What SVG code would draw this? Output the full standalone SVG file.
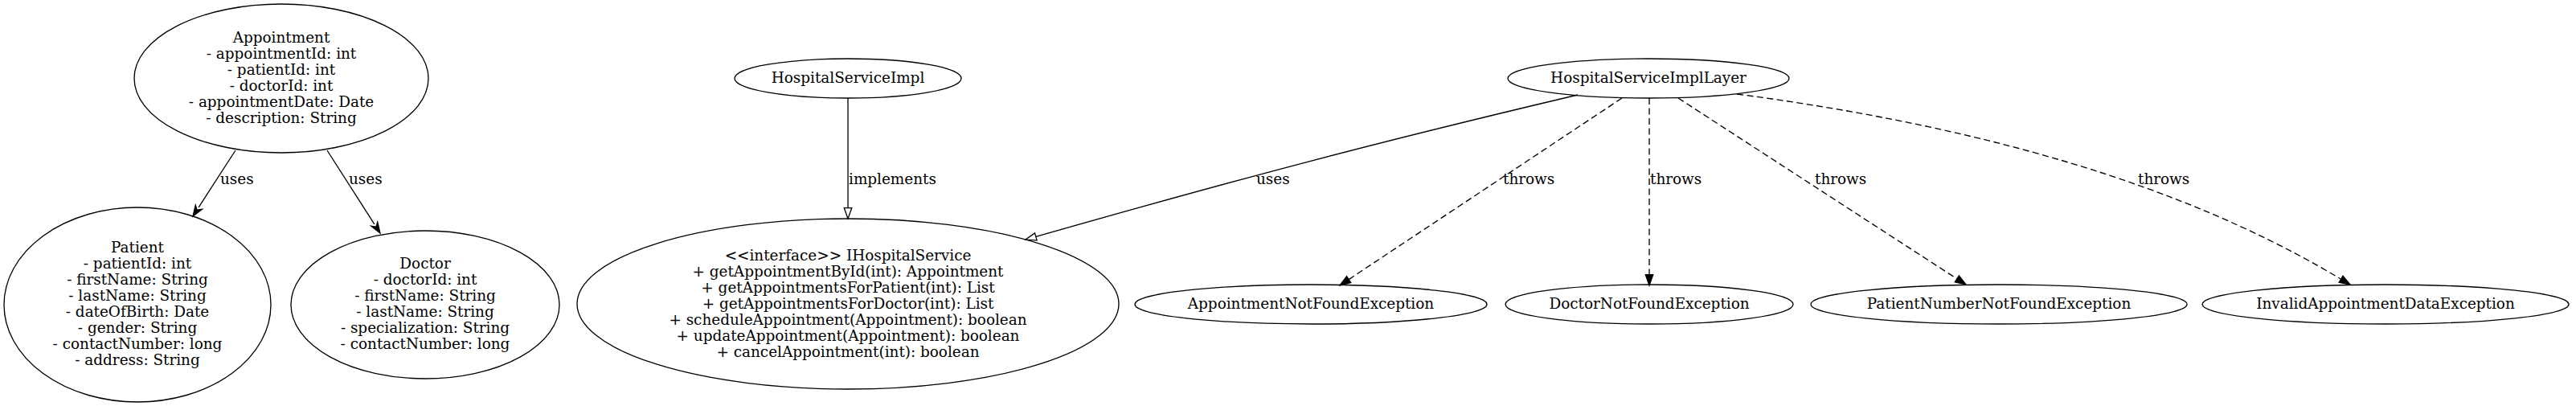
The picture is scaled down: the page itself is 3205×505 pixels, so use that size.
<svg xmlns="http://www.w3.org/2000/svg" width="3205" height="505" viewBox="0 0 3205 505">
<style>
text{font-family:"DejaVu Serif","Liberation Serif",serif;font-size:18.4px;fill:#000}
.n text{text-anchor:middle}
.n ellipse{fill:none;stroke:#000;stroke-width:1.33}
.e path{fill:none;stroke:#000;stroke-width:1.33}
.e .d{stroke-dasharray:8,4.5}
</style>
<defs>
<marker id="vee" markerUnits="userSpaceOnUse" markerWidth="20" markerHeight="20" refX="0" refY="0" orient="auto" viewBox="-2 -10 20 20" overflow="visible">
<path d="M0,-4.7 L13.3,0 L0,4.7 L4,0 Z" fill="#000" stroke="#000" stroke-width="1.33"/>
</marker>
<marker id="hollow" markerUnits="userSpaceOnUse" markerWidth="20" markerHeight="20" refX="0" refY="0" orient="auto" viewBox="-2 -10 20 20" overflow="visible">
<path d="M0,-4.7 L13.3,0 L0,4.7 Z" fill="#fff" stroke="#000" stroke-width="1.33"/>
</marker>
<marker id="solid" markerUnits="userSpaceOnUse" markerWidth="20" markerHeight="20" refX="0" refY="0" orient="auto" viewBox="-2 -10 20 20" overflow="visible">
<path d="M0,-4.7 L13.3,0 L0,4.7 Z" fill="#000" stroke="#000" stroke-width="1.33"/>
</marker>
</defs>
<rect width="3205" height="505" fill="#fff"/>
<g id="edges" class="e">
<path d="M293,187 L247.2,257.8" marker-end="url(#vee)"/>
<text x="274" y="229">uses</text>
<path d="M407,187 L465.8,278.8" marker-end="url(#vee)"/>
<text x="434" y="229">uses</text>
<path d="M1055,122 L1055,258.7" marker-end="url(#hollow)"/>
<text x="1056" y="229">implements</text>
<path d="M1963,118 C1713,177 1539,223 1288.8,294.4" marker-end="url(#hollow)"/>
<text x="1563" y="229">uses</text>
<path class="d" d="M2018,122 L1678.1,347.6" marker-end="url(#solid)"/>
<text x="1870" y="229">throws</text>
<path class="d" d="M2052,122 L2052,341.7" marker-end="url(#solid)"/>
<text x="2053" y="229">throws</text>
<path class="d" d="M2088,122 L2434.8,346.8" marker-end="url(#solid)"/>
<text x="2258" y="229">throws</text>
<path class="d" d="M2161,117 C2541,167 2767,260 2912.6,347.2" marker-end="url(#solid)"/>
<text x="2660" y="229">throws</text>
</g>
<g id="Appointment" class="n">
<ellipse cx="350" cy="97.5" rx="183" ry="92.5"/>
<text x="350" y="53">Appointment</text>
<text x="350" y="73">- appointmentId: int</text>
<text x="350" y="93">- patientId: int</text>
<text x="350" y="113">- doctorId: int</text>
<text x="350" y="133">- appointmentDate: Date</text>
<text x="350" y="153">- description: String</text>
</g>
<g id="Patient" class="n">
<ellipse cx="171" cy="379" rx="166" ry="121"/>
<text x="171" y="314">Patient</text>
<text x="171" y="334">- patientId: int</text>
<text x="171" y="354">- firstName: String</text>
<text x="171" y="374">- lastName: String</text>
<text x="171" y="394">- dateOfBirth: Date</text>
<text x="171" y="414">- gender: String</text>
<text x="171" y="434">- contactNumber: long</text>
<text x="171" y="454">- address: String</text>
</g>
<g id="Doctor" class="n">
<ellipse cx="529" cy="379" rx="167" ry="92"/>
<text x="529" y="334">Doctor</text>
<text x="529" y="354">- doctorId: int</text>
<text x="529" y="374">- firstName: String</text>
<text x="529" y="394">- lastName: String</text>
<text x="529" y="414">- specialization: String</text>
<text x="529" y="434">- contactNumber: long</text>
</g>
<g id="IHospitalService" class="n">
<ellipse cx="1055" cy="378" rx="337" ry="106"/>
<text x="1055" y="324">&lt;&lt;interface&gt;&gt; IHospitalService</text>
<text x="1055" y="344">+ getAppointmentById(int): Appointment</text>
<text x="1055" y="364">+ getAppointmentsForPatient(int): List</text>
<text x="1055" y="384">+ getAppointmentsForDoctor(int): List</text>
<text x="1055" y="404">+ scheduleAppointment(Appointment): boolean</text>
<text x="1055" y="424">+ updateAppointment(Appointment): boolean</text>
<text x="1055" y="444">+ cancelAppointment(int): boolean</text>
</g>
<g id="HospitalServiceImpl" class="n">
<ellipse cx="1055" cy="97.5" rx="141" ry="24.5"/>
<text x="1055" y="103">HospitalServiceImpl</text>
</g>
<g id="HospitalServiceImplLayer" class="n">
<ellipse cx="2051" cy="97.5" rx="175" ry="24.5"/>
<text x="2051" y="103">HospitalServiceImplLayer</text>
</g>
<g id="AppointmentNotFoundException" class="n">
<ellipse cx="1631" cy="378.5" rx="219" ry="24.5"/>
<text x="1631" y="384">AppointmentNotFoundException</text>
</g>
<g id="DoctorNotFoundException" class="n">
<ellipse cx="2052" cy="378.5" rx="179" ry="24.5"/>
<text x="2052" y="384">DoctorNotFoundException</text>
</g>
<g id="PatientNumberNotFoundException" class="n">
<ellipse cx="2487" cy="378.5" rx="234" ry="24.5"/>
<text x="2487" y="384">PatientNumberNotFoundException</text>
</g>
<g id="InvalidAppointmentDataException" class="n">
<ellipse cx="2968" cy="378.5" rx="228" ry="24.5"/>
<text x="2968" y="384">InvalidAppointmentDataException</text>
</g>
</svg>
